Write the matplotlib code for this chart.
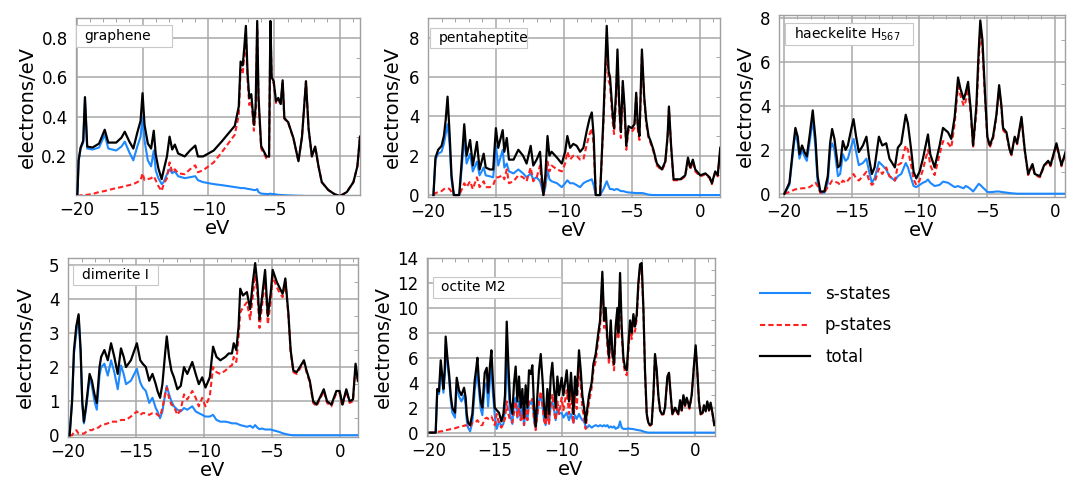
import numpy as np
import matplotlib
matplotlib.use('Agg')
import matplotlib.pyplot as plt
from matplotlib.ticker import MultipleLocator
from matplotlib.patches import Rectangle

# ============================================================================
# DATA: energy (eV), s, p, total DOS
# ============================================================================

# --- graphene ---
graphene_e = [-19.95, -19.85, -19.7, -19.5, -19.37, -19.2, -18.8, -18.3, -17.87, -17.6,
              -17.0, -16.6, -16.35, -16.0, -15.7, -15.4, -15.15, -15.0, -14.85, -14.6,
              -14.35, -14.15, -14.0, -13.8, -13.55, -13.4, -13.15, -12.95, -12.75, -12.55,
              -12.3, -11.8, -11.4, -11.0, -10.8, -10.4, -10.0, -9.6, -9.0, -8.5,
              -8.0, -7.7, -7.56, -7.4, -7.28, -7.16, -7.03, -6.9, -6.75, -6.55,
              -6.42, -6.3, -6.2, -6.0, -5.6, -5.4, -5.3, -5.2, -5.05, -4.87,
              -4.7, -4.52, -4.37, -4.24, -3.95, -3.55, -3.17, -2.9, -2.75, -2.6,
              -2.4, -2.15, -1.9, -1.65, -1.4, -0.9, -0.4, 0.0, 0.5, 1.0,
              1.3, 1.5]
graphene_s = [0, 0.18, 0.24, 0.27, 0.49, 0.24, 0.235, 0.245, 0.31, 0.24,
              0.23, 0.25, 0.275, 0.22, 0.18, 0.25, 0.3, 0.4, 0.28, 0.18,
              0.15, 0.23, 0.13, 0.09, 0.06, 0.07, 0.11, 0.135, 0.115, 0.125,
              0.1, 0.09, 0.095, 0.1, 0.08, 0.07, 0.065, 0.06, 0.055, 0.05,
              0.045, 0.042, 0.04, 0.04, 0.04, 0.038, 0.036, 0.035, 0.033, 0.03,
              0.03, 0.035, 0.02, 0.012, 0.01, 0.01, 0.012, 0.01, 0.01, 0.008,
              0.006, 0.005, 0.005, 0.004, 0.003, 0.002, 0.001, 0.001, 0, 0,
              0, 0, 0, 0, 0, 0, 0, 0, 0, 0,
              0, 0]
graphene_p = [0, 0, 0.003, 0.005, 0.005, 0.006, 0.01, 0.02, 0.025, 0.03,
              0.04, 0.045, 0.05, 0.055, 0.06, 0.07, 0.08, 0.115, 0.08, 0.085,
              0.09, 0.1, 0.08, 0.05, 0.025, 0.06, 0.09, 0.17, 0.12, 0.135,
              0.115, 0.11, 0.135, 0.155, 0.12, 0.13, 0.15, 0.17, 0.22, 0.265,
              0.31, 0.41, 0.64, 0.62, 0.71, 0.82, 0.58, 0.46, 0.48, 0.33,
              0.42, 0.85, 0.48, 0.24, 0.19, 0.19, 0.87, 0.59, 0.57, 0.47,
              0.49, 0.46, 0.58, 0.39, 0.37, 0.29, 0.175, 0.3, 0.44, 0.58,
              0.34, 0.2, 0.25, 0.15, 0.07, 0.03, 0.008, 0.0, 0.02, 0.07,
              0.15, 0.3]
graphene_tot = [0, 0.18, 0.245, 0.28, 0.5, 0.25, 0.245, 0.265, 0.335, 0.27,
                0.27, 0.295, 0.325, 0.275, 0.24, 0.32, 0.38, 0.52, 0.36, 0.265,
                0.24, 0.33, 0.21, 0.14, 0.085, 0.13, 0.2, 0.3, 0.235, 0.26,
                0.215, 0.2, 0.23, 0.255, 0.2, 0.2, 0.215, 0.23, 0.275, 0.315,
                0.355, 0.452, 0.68, 0.66, 0.75, 0.86, 0.62, 0.495, 0.515, 0.36,
                0.45, 0.885, 0.5, 0.252, 0.2, 0.2, 0.885, 0.6, 0.58, 0.478,
                0.496, 0.465, 0.585, 0.394, 0.373, 0.292, 0.176, 0.3, 0.44, 0.58,
                0.34, 0.2, 0.25, 0.15, 0.07, 0.03, 0.008, 0.0, 0.02, 0.07,
                0.15, 0.3]

# --- pentaheptite ---
penta_e = [-19.6, -19.45, -19.25, -19.0, -18.83, -18.7, -18.56, -18.4, -18.27, -18.1,
           -17.7, -17.5, -17.33, -17.16, -16.9, -16.7, -16.4, -16.2, -15.9, -15.75,
           -15.45, -15.2, -15.0, -14.83, -14.5, -14.38, -14.2, -14.04, -13.7, -13.35,
           -13.0, -12.74, -12.44, -12.25, -12.0, -11.75, -11.63, -11.5, -11.36, -11.2,
           -11.06, -10.9, -10.5, -10.15, -9.9, -9.74, -9.54, -9.3, -9.05, -8.8,
           -8.56, -8.3, -8.1, -7.94, -7.8, -7.65, -7.33, -7.08, -6.84, -6.7,
           -6.6, -6.4, -6.3, -6.15, -6.05, -5.93, -5.8, -5.66, -5.53, -5.4,
           -5.24, -5.0, -4.8, -4.67, -4.55, -4.43, -4.25, -4.08, -3.93, -3.76,
           -3.64, -3.4, -3.15, -2.78, -2.53, -2.36, -2.26, -2.1, -1.92, -1.43,
           -1.06, -0.86, -0.69, -0.5, -0.32, 0.05, 0.42, 0.74, 0.9, 1.15,
           1.33, 1.52]
penta_s = [0, 1.8, 2.1, 2.2, 2.6, 3.1, 3.6, 2.5, 0.8, 0,
           0, 1.5, 3.0, 1.6, 2.1, 1.2, 1.7, 1.0, 1.4, 1.0,
           0.95, 0.9, 2.5, 1.5, 2.3, 1.4, 1.6, 1.2, 1.1, 1.3,
           1.1, 0.9, 1.1, 0.8, 0.9, 0.7, 0.4, 0.0, 0.4, 1.3,
           0.8, 0.7, 0.6, 0.4, 0.6, 0.75, 0.6, 0.6, 0.5, 0.4,
           0.6, 0.7, 0.75, 0.8, 0.5, 0, 0, 0.3, 0.7, 0.45,
           0.3, 0.3, 0.25, 0.3, 0.3, 0.25, 0.2, 0.2, 0.18, 0.15,
           0.13, 0.12, 0.11, 0.1, 0.1, 0.1, 0.1, 0.08, 0.05, 0.02,
           0.01, 0, 0, 0, 0, 0, 0, 0, 0, 0,
           0, 0, 0, 0, 0, 0, 0, 0, 0, 0,
           0, 0]
penta_p = [0, 0.1, 0.15, 0.2, 0.3, 0.35, 0.35, 0.3, 0.15, 0,
           0, 0.3, 0.6, 0.4, 0.7, 0.3, 0.9, 0.4, 0.7, 0.4,
           0.4, 0.5, 0.9, 0.9, 1.0, 0.8, 1.3, 0.6, 0.7, 1.0,
           0.9, 0.7, 1.4, 0.7, 0.9, 1.5, 0.6, 0.0, 0.6, 1.7,
           1.2, 1.5, 1.3, 1.2, 1.6, 2.2, 1.8, 2.0, 2.0, 1.8,
           1.8, 2.6, 3.1, 3.4, 2.5, 0, 0, 3.7, 7.9, 5.8,
           5.6, 3.7, 3.1, 4.9, 7.0, 4.5, 2.9, 5.5, 4.2, 2.3,
           3.3, 3.2, 3.4, 5.0, 3.3, 2.8, 7.1, 4.8, 3.6, 2.9,
           2.7, 2.2, 1.5, 1.25, 1.6, 2.9, 4.4, 2.4, 0.75, 0.75,
           0.95, 1.8, 1.3, 1.7, 1.2, 0.95, 1.05, 0.85, 0.55, 1.15,
           0.95, 2.3]
penta_tot = [0, 1.9, 2.3, 2.5, 3.0, 3.8, 5.0, 3.0, 1.0, 0,
             0, 1.9, 3.6, 2.0, 2.8, 1.5, 2.7, 1.3, 2.1, 1.4,
             1.3, 1.3, 3.4, 2.4, 3.3, 2.2, 2.9, 1.8, 1.8, 2.3,
             2.0, 1.6, 2.5, 1.5, 1.8, 2.2, 1.0, 0.0, 1.0, 3.0,
             2.0, 2.2, 1.9, 1.6, 2.2, 3.0, 2.4, 2.6, 2.5, 2.2,
             2.4, 3.3, 3.9, 4.2, 3.0, 0, 0, 4.0, 8.6, 6.3,
             6.0, 4.1, 3.4, 5.3, 7.4, 4.8, 3.2, 5.8, 4.5, 2.5,
             3.5, 3.4, 3.6, 5.2, 3.5, 3.0, 7.4, 5.0, 3.8, 3.0,
             2.8, 2.3, 1.6, 1.3, 1.7, 3.0, 4.5, 2.5, 0.8, 0.8,
             1.0, 1.9, 1.4, 1.8, 1.3, 1.0, 1.1, 0.9, 0.6, 1.2,
             1.0, 2.4]

# --- haeckelite H567 ---
haeck_e = [-19.95, -19.58, -19.33, -19.14, -18.97, -18.84, -18.65, -18.47, -18.3, -18.1,
           -17.86, -17.66, -17.5, -17.3, -17.0, -16.75, -16.58, -16.43, -16.26, -16.0,
           -15.84, -15.64, -15.44, -15.27, -15.0, -14.85, -14.66, -14.46, -14.16, -13.9,
           -13.7, -13.5, -13.3, -12.98, -12.73, -12.44, -12.2, -11.8, -11.58, -11.33,
           -11.0, -10.84, -10.6, -10.42, -10.22, -9.98, -9.73, -9.53, -9.36, -9.19,
           -8.87, -8.5, -8.25, -7.88, -7.64, -7.39, -7.14, -6.97, -6.72, -6.58,
           -6.4, -6.2, -6.03, -5.79, -5.62, -5.5, -5.34, -5.17, -4.98, -4.8,
           -4.56, -4.31, -4.11, -3.94, -3.82, -3.57, -3.33, -3.2, -2.96, -2.78,
           -2.46, -2.22, -1.97, -1.65, -1.48, -1.1, -0.79, -0.49, -0.32, 0.12,
           0.49, 0.79]
haeck_s = [0, 0.4, 1.8, 2.8, 2.3, 1.6, 2.0, 1.7, 1.5, 2.3,
           3.4, 2.1, 0.5, 0.05, 0.05, 0.5, 2.0, 2.3, 2.0, 0.8,
           0.9, 1.8, 1.5, 1.6, 2.2, 2.5, 1.9, 1.3, 1.4, 1.6,
           1.0, 0.5, 0.7, 1.45, 1.3, 1.1, 0.8, 0.6, 0.8, 0.9,
           1.4, 1.2, 0.7, 0.35, 0.3, 0.4, 0.5, 0.55, 0.65, 0.5,
           0.35, 0.4, 0.55, 0.5, 0.4, 0.3, 0.35, 0.3, 0.25, 0.35,
           0.3, 0.2, 0.1, 0.3, 0.45, 0.4, 0.3, 0.2, 0.08, 0.07,
           0.08, 0.1, 0.1, 0.08, 0.07, 0.05, 0.03, 0.02, 0.01, 0,
           0, 0, 0, 0, 0, 0, 0, 0, 0, 0,
           0, 0]
haeck_p = [0, 0.08, 0.15, 0.2, 0.22, 0.22, 0.25, 0.25, 0.25, 0.3,
           0.4, 0.5, 0.35, 0.05, 0.05, 0.3, 0.45, 0.6, 0.55, 0.5,
           0.4, 0.6, 0.5, 0.6, 0.8, 0.9, 0.7, 0.6, 0.8, 1.0,
           0.6, 0.4, 0.5, 1.15, 0.9, 1.2, 0.8, 0.6, 1.3, 1.4,
           2.2, 2.0, 1.3, 0.65, 0.4, 0.6, 1.1, 1.6, 2.0, 1.3,
           0.85, 1.8, 2.4, 2.3, 2.1, 3.2, 4.9, 4.5, 4.0, 4.2,
           4.8, 3.6, 2.1, 3.7, 6.0, 7.4, 6.6, 4.6, 2.5, 2.1,
           2.5, 3.5, 4.8, 3.9, 2.9, 2.7, 1.95, 1.75, 2.55, 2.25,
           3.4, 1.95, 0.85, 1.3, 0.85, 0.75, 1.25, 1.45, 1.25, 2.2,
           1.25, 1.85]
haeck_tot = [0, 0.5, 2.0, 3.0, 2.6, 1.8, 2.2, 1.9, 1.7, 2.6,
             3.8, 2.5, 0.8, 0.1, 0.1, 0.8, 2.3, 2.95, 2.5, 1.2,
             1.3, 2.4, 2.0, 2.2, 3.0, 3.4, 2.6, 1.9, 2.2, 2.6,
             1.6, 0.9, 1.2, 2.6, 2.2, 2.3, 1.6, 1.2, 2.1, 2.3,
             3.6, 3.2, 2.0, 1.0, 0.7, 1.0, 1.6, 2.2, 2.7, 1.8,
             1.2, 2.2, 3.0, 2.8, 2.5, 3.5, 5.3, 4.8, 4.3, 4.6,
             5.1, 3.8, 2.2, 4.0, 6.5, 7.9, 7.0, 4.8, 2.6, 2.2,
             2.6, 3.6, 4.95, 4.0, 3.0, 2.8, 2.0, 1.8, 2.6, 2.3,
             3.5, 2.0, 0.9, 1.35, 0.9, 0.8, 1.3, 1.5, 1.3, 2.3,
             1.3, 1.9]

# --- dimerite I ---
dimer_e = [-19.88, -19.7, -19.56, -19.39, -19.22, -19.07, -18.95, -18.83, -18.66, -18.41,
           -18.24, -18.05, -17.88, -17.68, -17.56, -17.32, -17.07, -16.83, -16.59, -16.34,
           -16.1, -15.9, -15.73, -15.37, -14.93, -14.68, -14.5, -14.27, -14.02, -13.78,
           -13.54, -13.41, -13.22, -13.05, -12.85, -12.73, -12.56, -12.39, -12.2, -11.95,
           -11.7, -11.46, -11.22, -10.85, -10.6, -10.37, -10.12, -9.88, -9.56, -9.32,
           -9.07, -8.78, -8.41, -8.17, -7.93, -7.8, -7.61, -7.44, -7.32, -7.12,
           -6.83, -6.59, -6.39, -6.22, -6.05, -5.9, -5.73, -5.49, -5.29, -5.07,
           -4.93, -4.63, -4.39, -4.2, -4.0, -3.78, -3.61, -3.41, -3.17, -2.93,
           -2.63, -2.44, -2.2, -1.95, -1.71, -1.46, -1.17, -0.93, -0.61, -0.24,
           0.0, 0.2, 0.49, 0.73, 0.98, 1.17, 1.34]
dimer_s = [0, 1.0, 2.4, 3.0, 3.5, 2.4, 0.9, 0.35, 0.8, 1.7,
           1.45, 1.0, 0.75, 1.75, 2.0, 2.1, 1.75, 2.2, 1.85, 1.35,
           2.05, 1.8, 1.5, 1.6, 1.95, 1.55, 1.4, 1.3, 0.95, 1.1,
           0.8, 0.7, 0.5, 0.7, 1.2, 1.45, 1.2, 1.0, 0.85, 0.75,
           0.7, 0.8, 0.75, 0.85, 0.7, 0.65, 0.6, 0.55, 0.55, 0.6,
           0.45, 0.4, 0.4, 0.38, 0.35, 0.35, 0.35, 0.32, 0.3, 0.28,
           0.25, 0.28, 0.22, 0.3, 0.22, 0.18, 0.2, 0.17, 0.17, 0.17,
           0.15, 0.12, 0.09, 0.06, 0.04, 0.02, 0.01, 0, 0, 0,
           0, 0, 0, 0, 0, 0, 0, 0, 0, 0,
           0, 0, 0, 0, 0, 0, 0]
dimer_p = [0, 0.0, 0.1, 0.15, 0.05, 0.05, 0.05, 0.05, 0.1, 0.15,
           0.15, 0.2, 0.2, 0.25, 0.3, 0.32, 0.35, 0.4, 0.4, 0.4,
           0.45, 0.45, 0.45, 0.55, 0.7, 0.6, 0.65, 0.65, 0.6, 0.65,
           0.65, 0.6, 0.55, 0.8, 1.2, 1.4, 1.1, 0.9, 0.85, 0.6,
           0.75, 1.2, 1.05, 1.3, 1.1, 0.85, 1.1, 0.85, 1.15, 2.0,
           1.85, 1.8, 1.9, 2.0, 2.05, 2.3, 2.15, 2.9, 3.6, 3.75,
           3.9, 3.4, 4.1, 4.7, 4.1, 3.15, 3.75, 4.6, 3.25, 3.95,
           4.65, 4.35, 4.15, 4.05, 4.5, 3.55, 2.45, 1.85, 1.8, 1.95,
           2.15, 1.85, 1.55, 0.95, 0.85, 1.05, 1.3, 0.95, 0.85, 1.25,
           1.25, 0.85, 1.3, 0.95, 1.0, 2.05, 1.55]
dimer_tot = [0, 1.0, 2.5, 3.2, 3.55, 2.5, 1.0, 0.4, 0.9, 1.8,
             1.6, 1.2, 0.95, 2.0, 2.3, 2.5, 2.2, 2.7, 2.3, 1.8,
             2.55, 2.3, 2.0, 2.2, 2.7, 2.2, 2.1, 2.0, 1.6, 1.8,
             1.5, 1.3, 1.1, 1.5, 2.4, 2.9, 2.3, 1.9, 1.7, 1.35,
             1.45, 2.0, 1.8, 2.15, 1.8, 1.5, 1.7, 1.4, 1.7, 2.6,
             2.3, 2.2, 2.3, 2.4, 2.4, 2.7, 2.5, 3.2, 4.3, 4.1,
             4.2, 3.7, 4.5, 5.05, 4.4, 3.4, 4.0, 4.85, 3.5, 4.2,
             4.85, 4.5, 4.3, 4.15, 4.6, 3.6, 2.5, 1.9, 1.85, 2.0,
             2.2, 1.9, 1.6, 1.0, 0.9, 1.1, 1.35, 1.0, 0.9, 1.3,
             1.3, 0.9, 1.35, 1.0, 1.05, 2.1, 1.6]

# --- octite M2 ---
octite_e = [-19.9, -19.45, -19.33, -19.2, -19.07, -18.95, -18.87, -18.77, -18.7, -18.57,
            -18.45, -18.32, -18.2, -18.0, -17.87, -17.7, -17.52, -17.32, -17.2, -17.12,
            -17.02, -16.87, -16.7, -16.52, -16.4, -16.32, -16.2, -16.07, -15.95, -15.77,
            -15.62, -15.52, -15.37, -15.27, -15.15, -15.02, -14.87, -14.7, -14.52, -14.37,
            -14.25, -14.12, -14.0, -13.87, -13.7, -13.57, -13.45, -13.32, -13.2, -13.07,
            -12.95, -12.82, -12.7, -12.57, -12.45, -12.32, -12.2, -12.07, -11.95, -11.82,
            -11.7, -11.57, -11.42, -11.32, -11.2, -11.07, -10.95, -10.82, -10.7, -10.57,
            -10.45, -10.32, -10.2, -10.0, -9.87, -9.62, -9.45, -9.3, -9.12, -9.0,
            -8.87, -8.7, -8.57, -8.45, -8.32, -8.2, -8.07, -7.95, -7.75, -7.62,
            -7.45, -7.25, -7.12, -6.95, -6.82, -6.7, -6.57, -6.45, -6.32, -6.2,
            -6.07, -5.95, -5.82, -5.75, -5.62, -5.5, -5.37, -5.25, -5.12, -5.0,
            -4.87, -4.75, -4.62, -4.5, -4.37, -4.25, -4.12, -4.0, -3.87, -3.75,
            -3.62, -3.5, -3.37, -3.25, -3.12, -3.0, -2.87, -2.75, -2.62, -2.5,
            -2.37, -2.25, -2.07, -1.95, -1.82, -1.7, -1.5, -1.25, -1.12, -1.0,
            -0.87, -0.75, -0.62, -0.42, -0.25, -0.07, 0.05, 0.17, 0.3, 0.42,
            0.57, 0.67, 0.8, 0.92, 1.05, 1.17, 1.32, 1.45]
octite_s = [0, 0, 3.3, 3.1, 5.3, 4.0, 3.2, 4.6, 7.0, 5.4,
            4.4, 2.6, 1.6, 1.2, 3.9, 2.9, 2.5, 3.0, 2.2, 1.0,
            0.4, 0.1, 0.8, 3.4, 4.3, 5.0, 3.3, 1.9, 1.4, 3.7,
            4.0, 2.1, 4.3, 5.3, 3.0, 1.4, 0.3, 0.9, 0.5, 0.7,
            1.9, 6.3, 4.0, 1.5, 0.7, 2.4, 2.8, 1.2, 2.5, 1.0,
            2.0, 0.6, 2.0, 1.0, 2.5, 2.3, 2.7, 1.0, 0.3, 1.5,
            2.5, 3.0, 2.0, 1.0, 0.6, 1.8, 0.8, 2.2, 2.5, 1.8,
            1.0, 2.0, 1.5, 1.6, 1.2, 1.6, 1.0, 1.5, 0.8, 1.4,
            1.1, 1.5, 1.2, 1.0, 0.9, 0.5, 0.4, 0.6, 0.4, 0.5,
            0.6, 0.5, 0.6, 0.5, 0.6, 0.5, 0.6, 0.4, 0.5, 0.4,
            0.5, 0.3, 0.4, 0.4, 0.9, 0.4, 0.3, 0.3, 0.3, 0.35,
            0.3, 0.3, 0.28, 0.25, 0.22, 0.2, 0.18, 0.15, 0.1, 0.05,
            0.02, 0, 0, 0, 0, 0, 0, 0, 0, 0,
            0, 0, 0, 0, 0, 0, 0, 0, 0, 0,
            0, 0, 0, 0, 0, 0, 0, 0, 0, 0,
            0, 0, 0, 0, 0, 0, 0, 0]
octite_p = [0, 0, 0.05, 0.08, 0.1, 0.12, 0.15, 0.18, 0.2, 0.22,
            0.25, 0.28, 0.3, 0.35, 0.4, 0.45, 0.5, 0.55, 0.6, 0.5,
            0.5, 0.5, 0.8, 0.8, 0.9, 1.0, 0.8, 0.6, 0.6, 1.1,
            1.2, 1.1, 1.2, 1.3, 1.0, 0.6, 1.5, 0.7, 0.4, 0.8,
            1.1, 2.5, 1.5, 1.0, 0.8, 1.6, 2.5, 1.3, 2.0, 1.0,
            1.5, 0.6, 1.8, 1.0, 2.5, 2.4, 2.7, 1.0, 0.2, 1.5,
            2.5, 3.3, 2.0, 1.0, 0.6, 1.7, 0.7, 2.3, 3.1, 1.7,
            1.0, 2.5, 1.5, 2.8, 1.8, 3.4, 1.5, 3.3, 0.7, 3.1,
            1.9, 5.1, 3.8, 2.0, 1.1, 0.3, 1.6, 2.4, 3.6, 5.0,
            5.7, 7.5, 8.4, 12.3, 8.4, 9.4, 6.9, 5.5, 8.4, 6.0,
            5.0, 8.1, 9.5, 7.5, 11.8, 8.0, 5.6, 4.8, 4.6, 6.5,
            8.5, 7.5, 9.0, 8.1, 9.1, 11.6, 13.2, 13.3, 9.7, 4.8,
            1.4, 0.75, 0.55, 0.65, 2.9, 6.2, 4.9, 2.9, 1.7, 1.45,
            1.45, 1.9, 4.4, 4.7, 2.9, 1.45, 1.9, 1.45, 2.5, 1.75,
            2.9, 2.1, 2.7, 1.9, 2.9, 5.4, 6.9, 4.9, 2.4, 1.45,
            1.55, 2.1, 1.65, 2.4, 1.75, 2.3, 1.45, 0.55]
octite_tot = [0, 0, 3.5, 3.3, 5.8, 4.5, 3.5, 5.0, 7.7, 6.0,
              4.8, 3.0, 2.0, 1.6, 4.4, 3.4, 3.0, 3.6, 2.8, 1.5,
              0.8, 0.6, 1.5, 4.2, 5.2, 6.0, 4.0, 2.5, 2.0, 4.8,
              5.2, 3.2, 5.5, 6.6, 4.0, 2.0, 1.8, 1.6, 0.9, 1.5,
              3.0, 8.9, 5.5, 2.5, 1.5, 4.0, 5.3, 2.5, 4.5, 2.0,
              3.5, 1.2, 3.8, 2.0, 5.0, 4.7, 5.4, 2.0, 0.5, 3.0,
              5.0, 6.3, 4.0, 2.0, 1.2, 3.5, 1.5, 4.5, 5.6, 3.5,
              2.0, 4.5, 3.0, 4.4, 3.0, 5.0, 2.5, 4.8, 1.5, 4.5,
              3.0, 6.6, 5.0, 3.0, 2.0, 0.8, 2.0, 3.0, 4.0, 5.5,
              6.3, 8.0, 9.0, 12.9, 9.0, 10.0, 7.5, 6.0, 9.0, 6.5,
              5.5, 8.5, 10.0, 8.0, 12.8, 8.5, 6.0, 5.2, 5.0, 7.0,
              9.0, 8.0, 9.5, 8.5, 9.5, 12.0, 13.5, 13.6, 10.0, 5.0,
              1.5, 0.8, 0.6, 0.7, 3.0, 6.3, 5.0, 3.0, 1.8, 1.5,
              1.5, 2.0, 4.5, 4.8, 3.0, 1.5, 2.0, 1.5, 2.6, 1.8,
              3.0, 2.2, 2.8, 2.0, 3.0, 5.5, 7.0, 5.0, 2.5, 1.5,
              1.6, 2.2, 1.7, 2.5, 1.8, 2.4, 1.5, 0.6]

panel_names = ['graphene', 'pentaheptite', r'haeckelite H$_{567}$', 'dimerite I', 'octite M2']
legend_labels = ['s-states', 'p-states', 'total']
x_ticks = [-20, -15, -10, -5, 0]

# ============================================================================
# LAYOUT (pixel boxes of the reference: left, right, top, bottom)
# ============================================================================

W, H = 1067, 479
fig = plt.figure(figsize=(W / 100, H / 100), dpi=100)

def add_axes_px(l, r, t, b):
    return fig.add_axes([l / W, 1 - b / H, (r - l) / W, (b - t) / H])

panels = [
    dict(box=(76, 360, 18, 195), data=(graphene_e, graphene_s, graphene_p, graphene_tot),
         xlim=(-20.05, 1.5), ylim=(0.005, 0.9), yticks=[0.2, 0.4, 0.6, 0.8], ystep=0.1,
         label_box=(0.0, 0.836, 0.338, 0.124), ypad=3),
    dict(box=(428, 720, 18, 197), data=(penta_e, penta_s, penta_p, penta_tot),
         xlim=(-20.0, 1.5), ylim=(-0.1, 9.0), yticks=[0, 2, 4, 6, 8], ystep=1,
         label_box=(0.007, 0.832, 0.332, 0.112), ypad=5),
    dict(box=(779, 1065, 15, 197), data=(haeck_e, haeck_s, haeck_p, haeck_tot),
         xlim=(-20.35, 0.75), ylim=(-0.15, 8.15), yticks=[0, 2, 4, 6, 8], ystep=1,
         label_box=(0.021, 0.835, 0.448, 0.121), ypad=4),
    dict(box=(68, 358, 258, 437), data=(dimer_e, dimer_s, dimer_p, dimer_tot),
         xlim=(-20.0, 1.35), ylim=(-0.05, 5.2), yticks=[0, 1, 2, 3, 4, 5], ystep=0.5,
         label_box=(0.017, 0.849, 0.293, 0.112), ypad=10),
    dict(box=(427, 715, 258, 436), data=(octite_e, octite_s, octite_p, octite_tot),
         xlim=(-20.1, 1.5), ylim=(-0.27, 14.0), yticks=[0, 2, 4, 6, 8, 10, 12, 14], ystep=1,
         label_box=(0.02, 0.774, 0.444, 0.121), ypad=3),
]

S_COLOR = '#1e88ff'
P_COLOR = '#ff2020'
GRID = '#a8a8a8'

for name, cfg in zip(panel_names, panels):
    ax = add_axes_px(*cfg['box'])
    e, s, p, tot = cfg['data']
    assert len(e) == len(s) == len(p) == len(tot), name

    ls, = ax.plot(e, s, color=S_COLOR, lw=1.5, zorder=3)
    lp, = ax.plot(e, p, color=P_COLOR, lw=1.5, ls=(0, (2.5, 1.5)), zorder=4)
    lt, = ax.plot(e, tot, color='black', lw=1.6, zorder=5)

    ax.set_xlim(cfg['xlim'])
    ax.set_ylim(cfg['ylim'])
    ax.set_xticks(x_ticks)
    ax.set_yticks(cfg['yticks'])
    ax.xaxis.set_minor_locator(MultipleLocator(1))
    ax.yaxis.set_minor_locator(MultipleLocator(cfg['ystep']))
    ax.grid(True, which='major', color=GRID, linewidth=1.1, zorder=0)
    ax.tick_params(which='major', length=0, labelsize=12)
    ax.tick_params(axis='x', which='major', pad=4)
    ax.tick_params(axis='y', which='major', pad=6)
    ax.tick_params(which='minor', direction='in', length=3, color='#999999',
                   bottom=False, left=False, top=True, right=True)
    for sp in ax.spines.values():
        sp.set_color('#a0a0a0')
        sp.set_linewidth(1.0)
    ax.set_xlabel('eV', fontsize=14, labelpad=0)
    ax.set_ylabel('electrons/eV', fontsize=14, labelpad=cfg['ypad'])

    bx, by, bw, bh = cfg['label_box']
    ax.add_patch(Rectangle((bx, by), bw, bh, transform=ax.transAxes, facecolor='white',
                           edgecolor='#c8c8c8', linewidth=0.8, zorder=6))
    ax.text(bx + 0.03, by + bh / 2, name, transform=ax.transAxes, fontsize=10,
            va='center', ha='left', zorder=7)

fig.legend(handles=[ls, lp, lt], labels=legend_labels, loc='upper left',
           bbox_to_anchor=(745 / W, 1 - 270 / H), frameon=False, fontsize=12,
           handlelength=3.0, labelspacing=0.8, handletextpad=0.9)

plt.savefig('out.png', dpi=100)
